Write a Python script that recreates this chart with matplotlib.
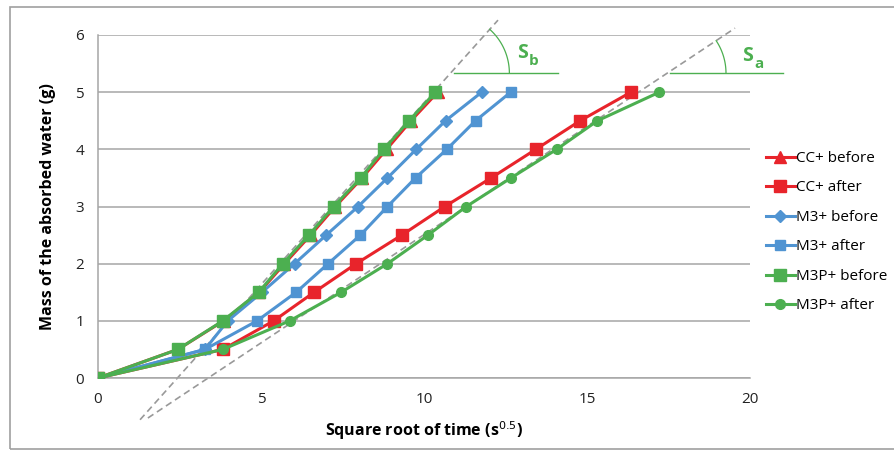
import numpy as np
import matplotlib
matplotlib.use("Agg")
import matplotlib.pyplot as plt
from matplotlib.patches import Rectangle

plt.rcParams['font.family'] = ['Open Sans', 'DejaVu Sans']

# mass absorbed (g), same levels for every series
mass = [0, 0.5, 1.0, 1.5, 2.0, 2.5, 3.0, 3.5, 4.0, 4.5, 5.0]

# square root of time for each level
cc_before = [0, 2.45, 3.85, 4.95, 5.72, 6.52, 7.28, 8.1, 8.85, 9.6, 10.42]
cc_after = [0, 3.83, 5.39, 6.63, 7.92, 9.32, 10.64, 12.06, 13.43, 14.79, 16.35]
m3_before = [0, 3.28, 3.98, 5.03, 6.03, 7.0, 7.98, 8.88, 9.76, 10.66, 11.77]
m3_after = [0, 3.28, 4.88, 6.08, 7.06, 8.05, 8.88, 9.74, 10.7, 11.58, 12.66]
m3p_before = [0, 2.45, 3.83, 4.93, 5.67, 6.47, 7.23, 8.06, 8.77, 9.54, 10.35]
m3p_after = [0, 3.83, 5.88, 7.46, 8.88, 10.12, 11.3, 12.67, 14.07, 15.32, 17.22]

# tangent (dashed) lines: (x_start, y_start, x_end, y_end)
tan_b = (1.29, -0.73, 12.27, 6.26)
tan_a = (1.53, -0.70, 19.54, 6.12)

red = '#e8242b'
blue = '#5094d2'
green = '#4caf50'

fig = plt.figure(figsize=(8.95, 4.5), dpi=100)
ax = fig.add_axes([98/895, 1-378/450, 652/895, 343/450])

# chart border
fig.patches.append(Rectangle((10/895, 1/450), 1.0, 442/450, transform=fig.transFigure,
                             fill=False, edgecolor='#a0a0a0', linewidth=1.2))

# dashed tangents
for t in (tan_b, tan_a):
    ax.plot([t[0], t[2]], [t[1], t[3]], color='#999999', lw=1.2, ls=(0, (4, 2.5)),
            clip_on=False, zorder=2)

lw = 2.2
ax.plot(cc_before, mass, color=red, lw=lw, marker='^', ms=8.5, label='CC+ before', zorder=3)
ax.plot(cc_after, mass, color=red, lw=lw, marker='s', ms=8, label='CC+ after', zorder=3)
ax.plot(m3_before, mass, color=blue, lw=lw, marker='D', ms=6, label='M3+ before', zorder=3)
ax.plot(m3_after, mass, color=blue, lw=lw, marker='s', ms=7.5, label='M3+ after', zorder=3)
ax.plot(m3p_before, mass, color=green, lw=lw, marker='s', ms=8, label='M3P+ before', zorder=4)
ax.plot(m3p_after, mass, color=green, lw=lw, marker='o', ms=7, label='M3P+ after', zorder=4)

ax.set_xlim(0, 20)
ax.set_ylim(0, 6)
ax.set_xticks([0, 5, 10, 15, 20])
ax.set_yticks([0, 1, 2, 3, 4, 5, 6])
ax.tick_params(length=0, labelsize=11, colors='#222222', pad=10)
ax.yaxis.grid(True, color='#a6a6a6', lw=1.1)
ax.set_axisbelow(True)
for s in ('top', 'right'):
    ax.spines[s].set_visible(False)
for s in ('left', 'bottom'):
    ax.spines[s].set_color('#a6a6a6')
    ax.spines[s].set_linewidth(1.1)

ax.set_xlabel('Square root of time (s$^{0.5}$)', fontsize=11.5, fontweight='bold', labelpad=9)
ax.set_ylabel('Mass of the absorbed water (g)', fontsize=11.5, fontweight='bold', labelpad=14)

# angle marks
xr = 652/20.0   # px per x unit
yr = 343/6.0    # px per y unit
rad = 59
for t, x_end in ((tan_b, 14.1), (tan_a, 21.0)):
    slope = (t[3]-t[1])/(t[2]-t[0])
    yh = 5.33
    xc = t[0] + (yh - t[1])/slope
    ax.plot([xc + 0.1, x_end], [yh, yh], color=green, lw=1.0, clip_on=False)
    ang = np.arctan(slope*yr/xr)
    th = np.linspace(0, ang, 40)
    ax.plot(xc + rad*np.cos(th)/xr, yh + rad*np.sin(th)/yr, color=green, lw=0.9, clip_on=False)

for sx, sy, sub in ((12.85, 5.68, 'b'), (19.75, 5.63, 'a')):
    ax.text(sx, sy, 'S', color=green, fontsize=14, fontweight='bold', ha='left', va='center', clip_on=False)
    ax.text(sx + 0.37, sy - 0.14, sub, color=green, fontsize=11, fontweight='bold', ha='left', va='center', clip_on=False)

leg = ax.legend(loc='upper left', bbox_to_anchor=(1.015, 0.68), frameon=False, fontsize=11,
                handlelength=1.9, handletextpad=0.1, labelspacing=0.95, borderaxespad=0)

fig.savefig('out.png', dpi=100)
